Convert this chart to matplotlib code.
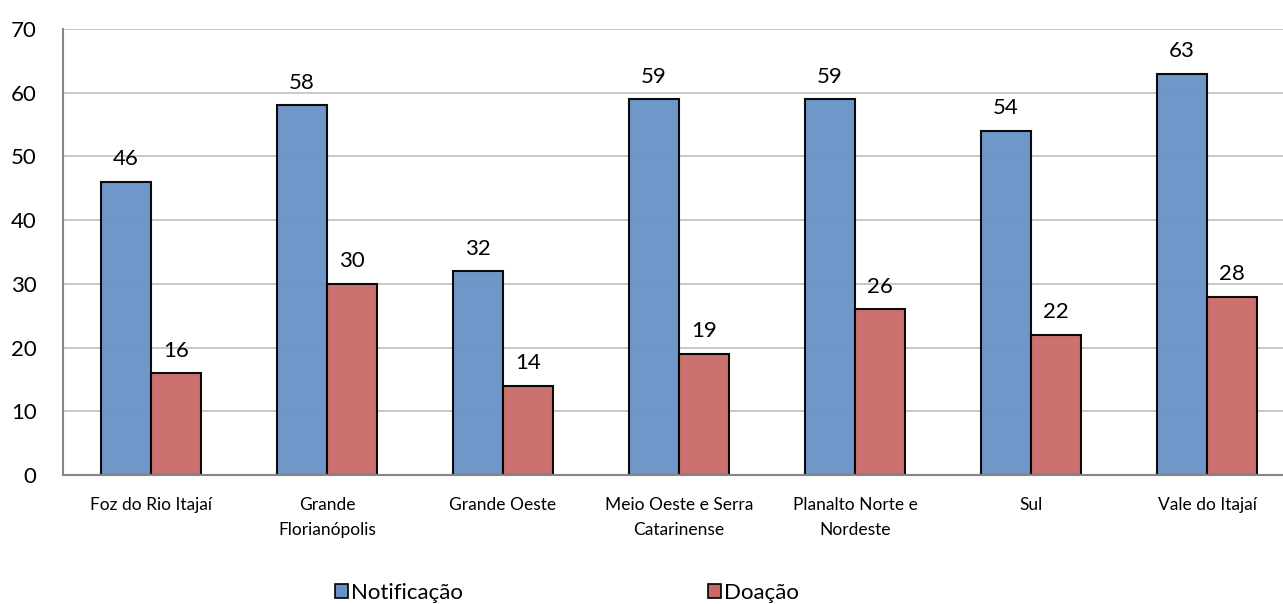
import numpy as np
import matplotlib.pyplot as plt
from matplotlib.patches import Patch

plt.rcParams['font.family'] = ['Lato', 'DejaVu Sans']

regioes = ['Foz do Rio Itajaí', 'Grande\nFlorianópolis', 'Grande Oeste',
           'Meio Oeste e Serra\nCatarinense', 'Planalto Norte e\nNordeste', 'Sul',
           'Vale do Itajaí']
notificacao = [46, 58, 32, 59, 59, 54, 63]
doacao = [16, 30, 14, 19, 26, 22, 28]

azul = '#6892C7'
vermelho = '#C96966'

fig = plt.figure(figsize=(12.83, 6.04), dpi=100)
# axes extends past the right edge like the reference (clipped)
ax = fig.add_axes([63 / 1283, 1 - 475 / 604, 1232 / 1283, 446 / 604])

x = np.arange(len(regioes))
w = 0.284
b1 = ax.bar(x - w / 2, notificacao, w, color=azul, edgecolor='black', linewidth=1.5, alpha=0.95, zorder=2)
b2 = ax.bar(x + w / 2, doacao, w, color=vermelho, edgecolor='black', linewidth=1.5, alpha=0.95, zorder=2)

for barras in (b1, b2):
    for r in barras:
        ax.annotate(str(int(r.get_height())), (r.get_x() + r.get_width() / 2, r.get_height()),
                    xytext=(0, 9), textcoords='offset points', ha='center', va='bottom', fontsize=16)

ax.set_xlim(-0.5, len(regioes) - 0.5)
ax.set_ylim(0, 70)
ax.set_yticks(range(0, 71, 10))
ax.yaxis.grid(True, color='#BFBFBF', linewidth=1.2, zorder=1)
ax.set_axisbelow(True)
ax.set_xticks(x)
ax.set_xticklabels(regioes, fontsize=12.5, linespacing=1.65)
ax.tick_params(axis='both', length=0)
ax.tick_params(axis='y', labelsize=16, pad=19)
ax.tick_params(axis='x', pad=16)
for s in ['top', 'right']:
    ax.spines[s].set_visible(False)
for s in ['left', 'bottom']:
    ax.spines[s].set_color('#868686')
    ax.spines[s].set_linewidth(1.5)

handles = [Patch(facecolor=azul, edgecolor='black', linewidth=1.2),
           Patch(facecolor=vermelho, edgecolor='black', linewidth=1.2)]
fig.legend(handles, ['Notificação', 'Doação'], loc='center', bbox_to_anchor=(0.442, 1 - 593 / 604),
           ncol=2, frameon=False, fontsize=16, handlelength=0.6, handleheight=0.6,
           handletextpad=0.15, columnspacing=11.0)

fig.savefig('out.png', dpi=100)
